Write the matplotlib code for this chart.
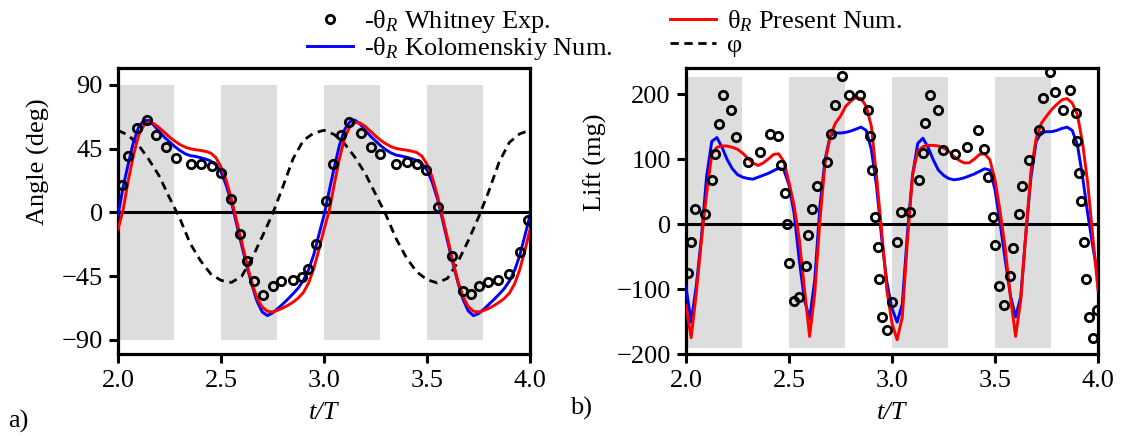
import numpy as np
import matplotlib
matplotlib.use("Agg")
import matplotlib.pyplot as plt
from matplotlib.lines import Line2D

plt.rcParams['font.family'] = ['Liberation Serif', 'DejaVu Serif']
plt.rcParams['mathtext.fontset'] = 'custom'
plt.rcParams['mathtext.rm'] = 'Liberation Serif'
plt.rcParams['mathtext.it'] = 'Liberation Serif:italic'

# ---------------- data ----------------
# numerical curves sampled every 0.025 from t/T = 2.0 to 4.0
t_line = np.linspace(2.0, 4.0, 81)
t_phi = np.linspace(2.0, 4.0, 41)

angle_present = [-12, 2, 22.7, 40.3, 54.4, 61.4, 63.7, 62.6, 59.8, 56.7, 53.2, 50.4, 48, 46.2, 45, 44.3,
                 43.8, 43.1, 41.9, 38.7, 32.1, 22.7, 9.8, -5.4, -20.6, -35.9, -49.9, -60.5, -66.8, -69.8,
                 -70.3, -69.1, -67.5, -65.6, -63.3, -60.5, -56.5, -49.9, -39.8, -26.5,
                 -12, 1, 20, 38, 52.5, 60.5, 63.5, 63.2, 60.8, 57.5, 54, 51, 48.5, 46.5, 45.2, 44.5,
                 44, 43.3, 42.3, 39.8, 34, 25, 12, -3, -18.5, -34, -48.5, -59.5, -66.5, -69.8,
                 -70.3, -69.3, -67.8, -65.8, -63.5, -60.8, -57, -50.5, -40.5, -27, -12]
angle_kolomenskiy = [-2, 18, 34.4, 49.7, 60.3, 64.9, 64.9, 61.4, 57.1, 53.2, 49.7, 46.6, 43.8, 41.5, 40.1, 39.6,
                     38.7, 37.7, 36.3, 33.7, 28.6, 19.2, 7.5, -7.7, -23, -37.7, -51.1, -62.8, -70.3, -72.9,
                     -71, -68, -64.7, -61.2, -57.4, -53.4, -48, -40.5, -30, -15.9,
                     -2, 15, 32, 47.5, 58.5, 64, 65.2, 62.5, 58, 54, 50.5, 47.2, 44.3, 42, 40.5, 39.8,
                     39, 38, 36.8, 34.5, 30, 21.5, 10, -5, -20.5, -35.5, -49.5, -61.5, -69.5, -72.9,
                     -71.5, -68.5, -65, -61.5, -57.8, -53.8, -48.5, -41, -30.5, -16.5, -2]
phi = [58, 54.5, 47.5, 37.3, 25.8, 10.3, -4.2, -21.8, -34, -43.4, -48, -49.5, -45.2, -32.6, -17.1, -1.2,
       18, 38, 50.9, 56,
       58, 55, 48.5, 39, 27.5, 13, -1.5, -18.5, -32, -42, -47.5, -49.8, -46.5, -35, -20, -3.5,
       15, 35.5, 49.5, 55.5, 58]

angle_exp_t = [2.021, 2.047, 2.091, 2.139, 2.184, 2.231, 2.282, 2.354, 2.405, 2.458, 2.500, 2.547, 2.592,
               2.625, 2.662, 2.702, 2.754, 2.790, 2.851, 2.892, 2.921, 2.961, 3.008, 3.045, 3.081, 3.123,
               3.180, 3.227, 3.272, 3.348, 3.401, 3.450, 3.494, 3.555, 3.620, 3.676, 3.712, 3.752, 3.798,
               3.846, 3.898, 3.951, 3.989]
angle_exp = [19.7, 39.8, 59.8, 65.4, 54.4, 46.4, 38.4, 34.4, 34.4, 32.8, 27.9, 9.4, -15.5, -34.2, -48.7,
             -58.6, -51.8, -48.7, -47.6, -45.7, -39.8, -22.3, 8.0, 34.4, 54.4, 63.7, 56.0, 46.4, 41.0,
             34.4, 35.6, 34.4, 30.2, 3.5, -30.7, -55.8, -57.4, -51.8, -49.2, -47.6, -43.4, -27.7, -5.4]

lift_present = [-125, -175, -107, -25, 47, 107, 118, 120, 120, 118, 115, 109, 101, 94, 90, 94, 100, 107, 108,
                96, 64, 28, -24, -100, -173, -107, 5, 94, 135, 155, 166, 181, 189, 195, 193, 181, 150, 73,
                -12, -102,
                -153, -178, -143, -25, 76, 112, 119, 121, 121, 120, 117, 112, 104, 98, 94, 94, 100, 107, 108,
                99, 68, 19, -38, -112, -173, -117, -14, 83, 132, 155, 166, 176, 184, 191, 193, 186, 168, 125,
                63, -20, -102]
lift_kolomenskiy = [-97, -151, -95, -20, 73, 127, 133, 118, 99, 85, 76, 72, 70, 69, 72, 75, 78, 82, 86, 83,
                    60, 16, -56, -117, -146, -86, 27, 99, 136, 140, 140, 141, 143, 146, 149, 144, 114, 58,
                    -22, -89,
                    -130, -151, -123, -14, 76, 124, 132, 118, 99, 83, 75, 70, 68, 69, 71, 74, 77, 81, 85, 83,
                    53, 1, -56, -110, -143, -112, -14, 73, 127, 141, 142, 142, 144, 147, 149, 144, 122, 73,
                    16, -35, -81]

lift_exp_t = [2.008, 2.024, 2.044, 2.092, 2.128, 2.141, 2.162, 2.181, 2.218, 2.241, 2.299, 2.359, 2.408,
              2.448, 2.460, 2.481, 2.489, 2.502, 2.524, 2.550, 2.581, 2.594, 2.613, 2.638, 2.683, 2.702,
              2.723, 2.756, 2.790, 2.845, 2.882, 2.893, 2.905, 2.917, 2.930, 2.937, 2.950, 2.977, 2.998,
              3.023, 3.044, 3.087, 3.133, 3.149, 3.160, 3.185, 3.222, 3.249, 3.306, 3.362, 3.416, 3.448,
              3.468, 3.489, 3.500, 3.521, 3.545, 3.573, 3.589, 3.617, 3.629, 3.667, 3.715, 3.735, 3.767,
              3.791, 3.832, 3.864, 3.893, 3.900, 3.909, 3.916, 3.934, 3.940, 3.958, 3.977, 3.994]
lift_exp = [-75, -27, 23, 15, 67, 107, 154, 198, 175, 134, 95, 111, 139, 135, 91, 47, 0, -60, -118, -112,
            -65, -17, 23, 59, 95, 139, 183, 227, 198, 198, 175, 135, 83, 11, -36, -84, -143, -163, -120,
            -28, 19, 19, 68, 110, 155, 199, 175, 114, 107, 118, 144, 115, 72, 11, -32, -96, -124, -80, -37,
            16, 59, 99, 144, 194, 234, 203, 175, 206, 171, 127, 79, 36, -28, -84, -143, -175, -132]

shade_starts = [2.0, 2.5, 3.0, 3.5]
shade_width = 0.27
x_ticks = [2.0, 2.5, 3.0, 3.5, 4.0]
angle_ticks = [-90, -45, 0, 45, 90]
lift_ticks = [-200, -100, 0, 100, 200]

# ---------------- figure ----------------
FS = 19
fig = plt.figure(figsize=(11.23, 4.36), dpi=100)
axL = fig.add_axes([118/1123, 1-354/436, 412/1123, 286/436])
axR = fig.add_axes([686/1123, 1-354/436, 412/1123, 286/436])

shade_col = '#dddddd'
red = '#ff0000'
blue = '#0000ff'
lw = 2.1
dash = (0, (3, 2))
mk = dict(marker='o', ls='none', ms=6, mfc='none', mec='black', mew=2.0, zorder=5)

for ax, lims, ticks, shade_rng in [(axL, (-100, 102), angle_ticks, (-90, 90)),
                                   (axR, (-200, 240), lift_ticks, (-191, 226))]:
    for s in shade_starts:
        ax.fill_between([s, s + shade_width], shade_rng[0], shade_rng[1], color=shade_col, lw=0, zorder=0)
    ax.axhline(0, color='black', lw=2.2, zorder=1)
    ax.set_xlim(2.0, 4.0)
    ax.set_ylim(*lims)
    ax.set_xticks(x_ticks)
    ax.set_xticklabels(['%.1f' % v for v in x_ticks])
    ax.set_yticks(ticks)
    ax.set_yticklabels([str(v).replace('-', '\u2212') for v in ticks])
    for sp in ax.spines.values():
        sp.set_linewidth(2.3)
    ax.tick_params(direction='out', length=6.5, width=2.2, labelsize=FS)
    ax.tick_params(axis='x', pad=5)
    ax.tick_params(axis='y', pad=4.5)
    ax.set_xlabel('t/T', fontsize=FS, style='italic', labelpad=7)

# left panel
axL.plot(t_phi, phi, color='black', ls=dash, lw=2.0, zorder=2)
axL.plot(t_line, angle_kolomenskiy, color=blue, lw=lw, zorder=3)
axL.plot(t_line, angle_present, color=red, lw=lw, zorder=4)
axL.plot(angle_exp_t, angle_exp, **mk)
axL.set_ylabel('Angle (deg)', fontsize=FS, labelpad=8)
axL.yaxis.label.set_y(0.671)

# right panel
axR.plot(t_line, lift_kolomenskiy, color=blue, lw=lw, zorder=3)
axR.plot(t_line, lift_present, color=red, lw=lw, zorder=4)
axR.plot(lift_exp_t, lift_exp, **mk)
axR.set_ylabel('Lift (mg)', fontsize=FS, labelpad=7)
axR.yaxis.label.set_y(0.671)

fig.text(8/1123, 1-421/436, 'a)', fontsize=FS, va='center', ha='left')
fig.text(570/1123, 1-408/436, 'b)', fontsize=FS, va='center', ha='left')

handles = [
    Line2D([], [], marker='o', ls='none', ms=6, mfc='none', mec='black', mew=2.0),
    Line2D([], [], color=blue, lw=lw),
    Line2D([], [], color=red, lw=lw),
    Line2D([], [], color='black', ls=dash, lw=2.0),
]
labels = ['-θ$_{R}$ Whitney Exp.', '-θ$_{R}$ Kolomenskiy Num.', 'θ$_{R}$ Present Num.', 'φ']
fig.legend(handles, labels, ncol=2, loc='upper left', bbox_to_anchor=(0.264, 1.006), frameon=False,
           borderaxespad=0, fontsize=FS, handlelength=1.75, handletextpad=0.4, columnspacing=2.2,
           labelspacing=0.0)

fig.savefig('out.png', dpi=100)
